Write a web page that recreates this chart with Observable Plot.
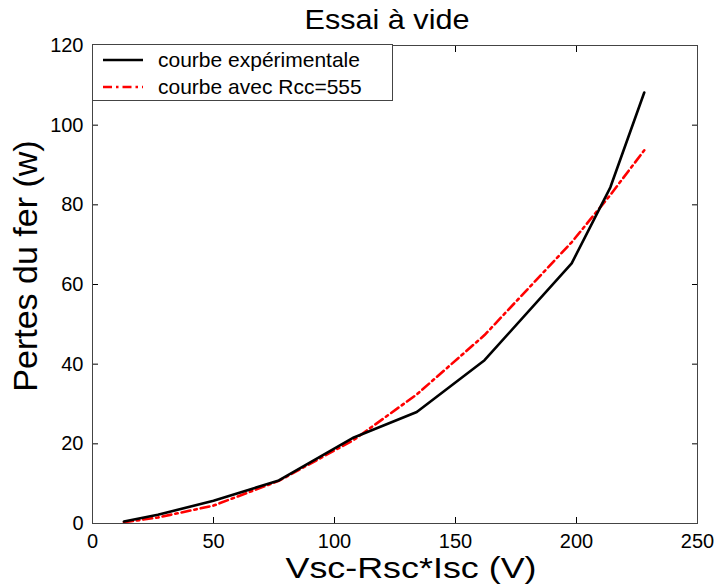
<!DOCTYPE html>
<html>
<head>
<meta charset="utf-8">
<script src="https://cdn.jsdelivr.net/npm/d3@7"></script>
<script src="https://cdn.jsdelivr.net/npm/@observablehq/plot@0.6"></script>
<style>
  html, body { margin: 0; padding: 0; background: #fff; }
  #chart { position: relative; width: 717px; height: 585px; }
</style>
</head>
<body>
<div id="chart"></div>
<script>
const title = "Essai à vide";
const xLabel = "Vsc-Rsc*Isc (V)";
const yLabel = "Pertes du fer (w)";
const seriesNames = ["courbe expérimentale", "courbe avec Rcc=555"];
const seriesColors = ["#000000", "#ff0000"];
const seriesDash = [null, "9,4,2.5,4"];

const voltage = [13, 27, 50, 77, 108, 134, 162, 198, 214, 228];
const pertesExp = [0.5, 2.2, 5.7, 10.8, 21.6, 28, 41, 65.3, 84.4, 108.2];
const pertesCalc = [0.3, 1.5, 4.5, 10.7, 21, 32.4, 47.3, 70.6, 82.5, 93.7];

const xTicks = [0, 50, 100, 150, 200, 250];
const yTicks = [0, 20, 40, 60, 80, 100, 120];

const rows = [];
voltage.forEach((v, i) => rows.push({v, p: pertesExp[i], s: seriesNames[0]}));
voltage.forEach((v, i) => rows.push({v, p: pertesCalc[i], s: seriesNames[1]}));

const font = "'Liberation Sans', Arial, sans-serif";

const plot = Plot.plot({
  width: 717,
  height: 585,
  marginLeft: 92,
  marginRight: 20,
  marginTop: 45,
  marginBottom: 62,
  style: {fontFamily: font, fontSize: "20px", background: "#fff", color: "#000", overflow: "visible"},
  x: {domain: [0, 250], ticks: xTicks},
  y: {domain: [0, 120], ticks: yTicks},
  marks: [
    Plot.axisX({anchor: "bottom", ticks: xTicks, tickSize: -6, tickPadding: 16, label: null, fontSize: 20}),
    Plot.axisX({anchor: "top", ticks: xTicks, tickSize: -6, tickFormat: () => "", label: null}),
    Plot.axisY({anchor: "left", ticks: yTicks, tickSize: -6, tickPadding: 15, label: null, fontSize: 20}),
    Plot.axisY({anchor: "right", ticks: yTicks, tickSize: -6, tickFormat: () => "", label: null}),
    Plot.line(rows.filter(d => d.s === seriesNames[1]), {x: "v", y: "p", stroke: seriesColors[1], strokeWidth: 2.6, strokeDasharray: seriesDash[1]}),
    Plot.line(rows.filter(d => d.s === seriesNames[0]), {x: "v", y: "p", stroke: seriesColors[0], strokeWidth: 2.6}),
    Plot.frame({stroke: "#444", strokeWidth: 1})
  ]
});

document.getElementById("chart").appendChild(plot);

const svg = d3.select(plot);

// Title
svg.append("text")
  .attr("x", 387).attr("y", 29)
  .attr("text-anchor", "middle")
  .attr("font-family", font).attr("font-size", 28)
  .attr("textLength", 165).attr("lengthAdjust", "spacingAndGlyphs")
  .attr("fill", "#000").text(title);

// X-axis label
svg.append("text")
  .attr("x", 411).attr("y", 578)
  .attr("text-anchor", "middle")
  .attr("font-family", font).attr("font-size", 29)
  .attr("textLength", 251).attr("lengthAdjust", "spacingAndGlyphs")
  .attr("fill", "#000").text(xLabel);

// Y-axis label (rotated)
svg.append("text")
  .attr("transform", "translate(37,266) rotate(-90)")
  .attr("text-anchor", "middle")
  .attr("font-family", font)
  .attr("font-size", 34)
  .attr("fill", "#000")
  .text(yLabel);

// Legend box overlaid inside the plot area (top-left)
const lg = svg.append("g").attr("font-family", font).attr("text-anchor", "start");
lg.append("rect").attr("x", 92.5).attr("y", 44.5).attr("width", 300).attr("height", 56)
  .attr("fill", "#fff").attr("stroke", "#444").attr("stroke-width", 1);
seriesNames.forEach((name, i) => {
  const y = 60 + i * 27;
  lg.append("line").attr("x1", 103).attr("x2", 143).attr("y1", y).attr("y2", y)
    .attr("stroke", seriesColors[i]).attr("stroke-width", 2.6)
    .attr("stroke-dasharray", seriesDash[i]);
  lg.append("text").attr("x", 158).attr("y", y).attr("dy", "0.35em")
    .attr("text-anchor", "start")
    .attr("font-size", 21).attr("fill", "#000").text(name);
});
</script>
</body>
</html>
